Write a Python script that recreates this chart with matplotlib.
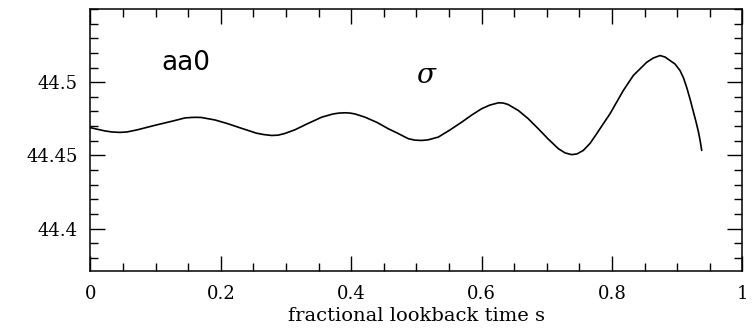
import matplotlib
matplotlib.use("Agg")
import matplotlib.pyplot as plt
from matplotlib.ticker import MultipleLocator

# sigma of aa0 versus fractional lookback time
lookback = [0.000, 0.0222, 0.033, 0.0448, 0.056, 0.0713, 0.0985, 0.1266,
            0.145, 0.1547, 0.1619, 0.1700, 0.1910, 0.2110, 0.2324, 0.2544,
            0.2662, 0.2780, 0.2877, 0.2984, 0.3137, 0.3337, 0.3547, 0.3721,
            0.3813, 0.3905, 0.3982, 0.4058, 0.4212, 0.4396, 0.4569, 0.4718,
            0.4876, 0.4979, 0.5081, 0.5178, 0.5336, 0.5516, 0.5695, 0.585,
            0.6002, 0.6129, 0.6257, 0.6329, 0.6405, 0.6563, 0.6712, 0.6870,
            0.7019, 0.7177, 0.7280, 0.7383, 0.7464, 0.7561, 0.7664, 0.7766,
            0.787, 0.7970, 0.8174, 0.8328, 0.8533, 0.8633, 0.8737, 0.8815,
            0.8891, 0.8968, 0.9044, 0.9098, 0.9147, 0.9198, 0.9248, 0.9290,
            0.9325, 0.9351, 0.9377]
sigma = [44.4689, 44.4667, 44.4660, 44.4657, 44.4660, 44.4674, 44.4705, 44.4735,
         44.4756, 44.4759, 44.4760, 44.4759, 44.4742, 44.4716, 44.4684, 44.4652,
         44.4642, 44.4636, 44.4638, 44.4650, 44.4675, 44.4718, 44.4761, 44.4783,
         44.4789, 44.4791, 44.4789, 44.4783, 44.4761, 44.4725, 44.4682, 44.4650,
         44.4614, 44.4604, 44.4602, 44.4606, 44.4625, 44.4674, 44.4727, 44.4776,
         44.4819, 44.4844, 44.4859, 44.4858, 44.4848, 44.4807, 44.4752, 44.4682,
         44.4613, 44.4546, 44.4517, 44.4505, 44.4510, 44.4534, 44.4582, 44.4648,
         44.4718, 44.4784, 44.4943, 44.5046, 44.5136, 44.5165, 44.5182, 44.5172,
         44.5148, 44.5124, 44.5080, 44.5029, 44.4964, 44.4885, 44.4800, 44.4729,
         44.4664, 44.4606, 44.4534]

x_ticks = [0, 0.2, 0.4, 0.6, 0.8, 1]
x_ticklabels = ["0", "0.2", "0.4", "0.6", "0.8", "1"]
y_ticks = [44.4, 44.45, 44.5]
y_ticklabels = ["44.4", "44.45", "44.5"]

fig = plt.figure(figsize=(7.54, 3.34), dpi=100)
ax = fig.add_axes([0.120, 0.1886, 0.8645, 0.7844])

ax.plot(lookback, sigma, color="black", lw=1.2,
        solid_joinstyle="round", solid_capstyle="round")

ax.set_xlim(0, 1)
ax.set_ylim(44.371, 44.55)

ax.set_xticks(x_ticks)
ax.set_xticklabels(x_ticklabels)
ax.set_yticks(y_ticks)
ax.set_yticklabels(y_ticklabels)
ax.xaxis.set_minor_locator(MultipleLocator(0.05))
ax.yaxis.set_minor_locator(MultipleLocator(0.01))

ax.tick_params(which="both", direction="in", top=True, right=True,
               width=1.0, colors="black")
ax.tick_params(which="major", length=11)
ax.tick_params(which="minor", length=6)
ax.tick_params(axis="x", which="major", pad=10)
ax.tick_params(axis="y", which="major", pad=9)
for lab in ax.get_xticklabels() + ax.get_yticklabels():
    lab.set_fontfamily("DejaVu Serif")
    lab.set_fontsize(13)

for sp in ax.spines.values():
    sp.set_linewidth(1.1)

ax.set_xlabel("fractional lookback time s", family="DejaVu Serif",
              fontsize=14, labelpad=3)

ax.text(0.1465, 44.5134, "aa0", family="DejaVu Sans", fontsize=19,
        ha="center", va="center")
ax.text(0.516, 44.5049, r"$\sigma$", fontsize=20, ha="center", va="center",
        math_fontfamily="dejavuserif")

fig.savefig("out.png", dpi=100)
